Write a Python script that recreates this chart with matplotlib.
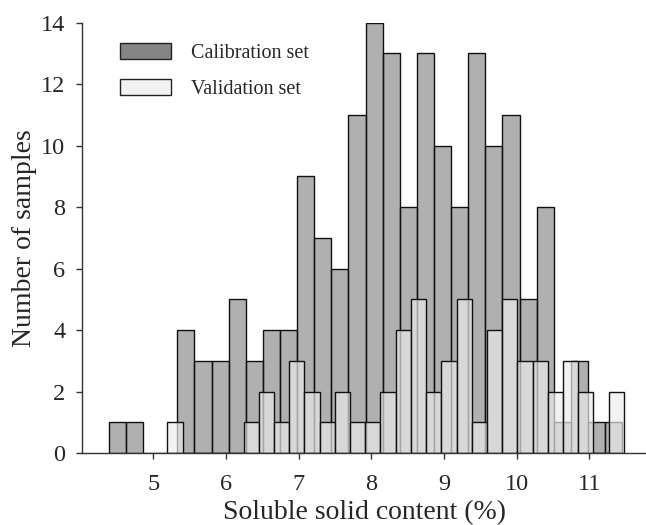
import numpy as np
import matplotlib
matplotlib.use("Agg")
import matplotlib.pyplot as plt
from matplotlib.patches import Patch

# Histogram bins (30 bins per set)
cal_range = (4.39, 11.453)
cal_counts = [1, 1, 0, 0, 4, 3, 3, 5, 3, 4, 4, 9, 7, 6, 11,
              14, 13, 8, 13, 10, 8, 13, 10, 11, 5, 8, 1, 3, 1, 1]

val_range = (5.195, 11.476)
val_counts = [1, 0, 0, 0, 0, 1, 2, 1, 3, 2, 1, 2, 1, 1, 2,
              4, 5, 2, 3, 5, 1, 4, 5, 3, 3, 2, 3, 2, 0, 2]

labels = ["Calibration set", "Validation set"]

plt.rcParams['font.family'] = ['Liberation Serif', 'DejaVu Serif']
text_col = "#262626"

fig = plt.figure(figsize=(6.46, 5.25), dpi=100)
ax = fig.add_axes([0.127, 0.137, 0.873, 0.820])

cal_edges = np.linspace(cal_range[0], cal_range[1], len(cal_counts) + 1)
val_edges = np.linspace(val_range[0], val_range[1], len(val_counts) + 1)

# calibration first, then the semi-transparent validation bars on top
ax.bar(cal_edges[:-1], cal_counts, width=np.diff(cal_edges), align='edge',
       color=(0.50, 0.50, 0.50, 0.62), edgecolor='#111111', linewidth=1.0)
ax.bar(val_edges[:-1], val_counts, width=np.diff(val_edges), align='edge',
       color=(0.925, 0.925, 0.925, 0.68), edgecolor='#111111', linewidth=1.0)

ax.set_xlim(4.02, 11.78)
ax.set_ylim(0, 14)
ax.set_xticks([5, 6, 7, 8, 9, 10, 11])
ax.set_yticks(range(0, 15, 2))

for side in ['top', 'right']:
    ax.spines[side].set_visible(False)
for side in ['left', 'bottom']:
    ax.spines[side].set_color('#333333')
    ax.spines[side].set_linewidth(1.0)

ax.tick_params(direction='out', length=4.5, width=1.0, color='#333333',
               labelsize=17.5, labelcolor=text_col)
ax.tick_params(axis='x', pad=10.5)
ax.tick_params(axis='y', pad=7.5)

ax.set_xlabel("Soluble solid content (%)", fontsize=20, color=text_col, labelpad=3.5)
ax.set_ylabel("Number of samples", fontsize=20, color=text_col, labelpad=3)

handles = [Patch(facecolor='#858585', edgecolor='#222222', linewidth=1.0),
           Patch(facecolor='#f2f2f2', edgecolor='#222222', linewidth=1.0)]
ax.legend(handles, labels, loc='upper left', bbox_to_anchor=(0.035, 0.994),
          frameon=False, fontsize=14.5, handlelength=2.55, handleheight=0.8,
          labelspacing=0.8, handletextpad=1.0, labelcolor=text_col)

fig.savefig("out.png", dpi=100)
